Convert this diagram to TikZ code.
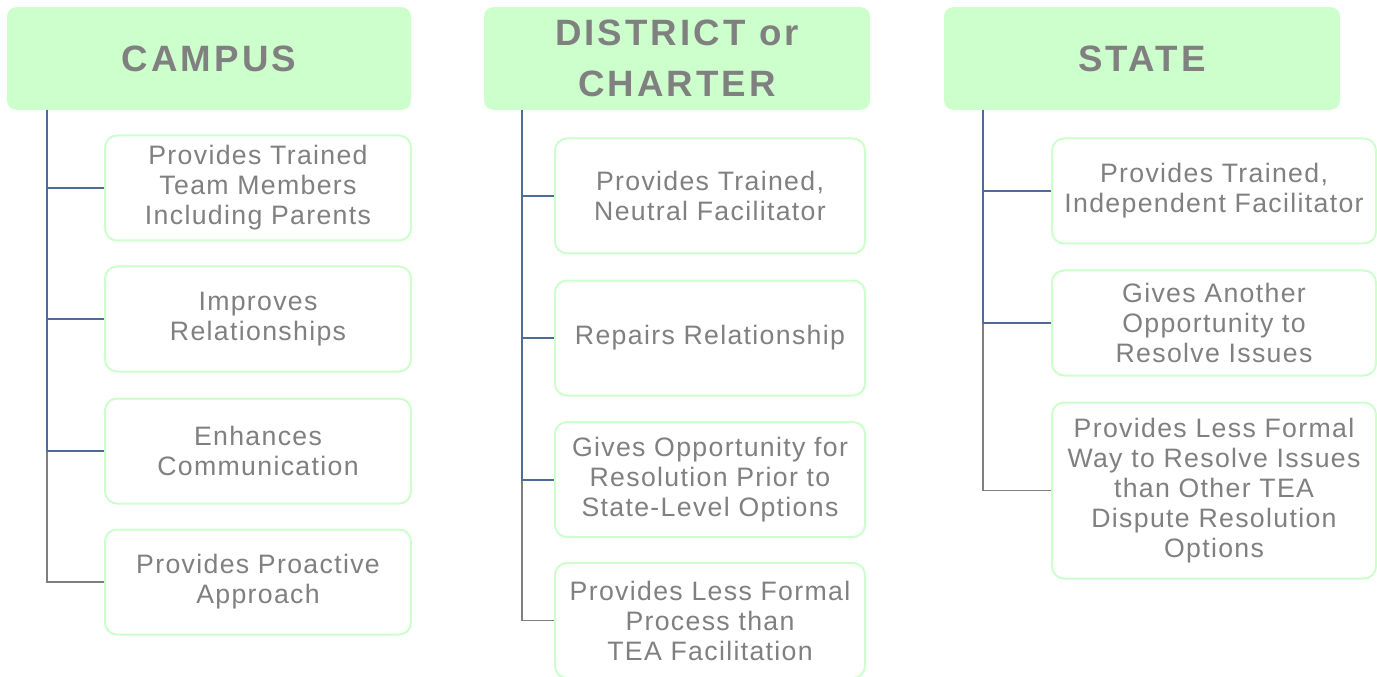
\documentclass[tikz,border=0pt]{standalone}
\usepackage{fontspec}
\setmainfont[LetterSpace=5]{Liberation Sans}
\newfontfamily\headfont[LetterSpace=8.5]{Liberation Sans}
\definecolor{headgreen}{HTML}{CCFFCC}
\definecolor{textgray}{HTML}{808080}
\definecolor{linkblue}{HTML}{4F6C99}
\definecolor{linkgray}{HTML}{7F7F7F}

\begin{document}
\begin{tikzpicture}[x=0.75pt,y=-0.75pt,
	header/.style={fill=headgreen,draw=none,rounded corners=7pt,align=center,
		text=textgray,font=\headfont\bfseries\fontsize{27.5}{38}\selectfont,inner sep=0pt},
	item/.style={draw=headgreen,line width=1.5pt,fill=white,rounded corners=9pt,align=center,
		text=textgray,font=\fontsize{20}{22.5}\selectfont,inner sep=0pt,yshift=-1.5pt},
	link/.style={draw=linkblue,line width=1.5pt},
	lastlink/.style={draw=linkgray,line width=1.1pt}]
	\useasboundingbox (0,0) rectangle (1377,677);

	% headers
	\node[header,minimum width=303pt,minimum height=77pt] (campus) at (209,58.5) {CAMPUS};
	\node[header,minimum width=289.5pt,minimum height=77pt] (district) at (677,58.5) {DISTRICT or\\CHARTER};
	\node[header,minimum width=297pt,minimum height=77pt] (state) at (1142,58.5) {STATE};

	% campus items
	\node[item,minimum width=229.5pt,minimum height=78.75pt] (c1) at (258,186) {Provides Trained\\Team Members\\Including Parents};
	\node[item,minimum width=229.5pt,minimum height=78.75pt] (c2) at (258,317) {Improves\\Relationships};
	\node[item,minimum width=229.5pt,minimum height=78.75pt] (c3) at (258,449) {Enhances\\Communication};
	\node[item,minimum width=229.5pt,minimum height=78.75pt] (c4) at (258,580) {Provides Proactive\\Approach};

	% district items
	\node[item,minimum width=232.5pt,minimum height=86.25pt] (d1) at (710,194) {Provides Trained,\\Neutral Facilitator};
	\node[item,minimum width=232.5pt,minimum height=86.25pt] (d2) at (710,336) {Repairs Relationship};
	\node[item,minimum width=232.5pt,minimum height=86.25pt] (d3) at (710,477.5) {Gives Opportunity for\\Resolution Prior to\\State-Level Options};
	\node[item,minimum width=232.5pt,minimum height=86.25pt] (d4) at (710,618.5) {Provides Less Formal\\Process than\\TEA Facilitation};

	% state items
	\node[item,minimum width=243pt,minimum height=78.75pt] (s1) at (1214,189) {Provides Trained,\\Independent Facilitator};
	\node[item,minimum width=243pt,minimum height=78.75pt] (s2) at (1214,321) {Gives Another\\Opportunity to\\Resolve Issues};
	\node[item,minimum width=243pt,minimum height=132pt] (s3) at (1214,488.5) {Provides Less Formal\\Way to Resolve Issues\\than Other TEA\\Dispute Resolution\\Options};

	% connectors
	\coordinate (cs) at (47,110);
	\coordinate (ds) at (522,110);
	\coordinate (ss) at (983,110);
	\draw[lastlink] (cs) |- (c4.west);
	\draw[lastlink] (ds) |- (d4.west);
	\draw[lastlink] (ss) |- (s3.west);
	\foreach \n in {c1,c2,c3}
		\draw[link] (cs) |- (\n.west);
	\foreach \n in {d1,d2,d3}
		\draw[link] (ds) |- (\n.west);
	\foreach \n in {s1,s2}
		\draw[link] (ss) |- (\n.west);
\end{tikzpicture}
\end{document}
